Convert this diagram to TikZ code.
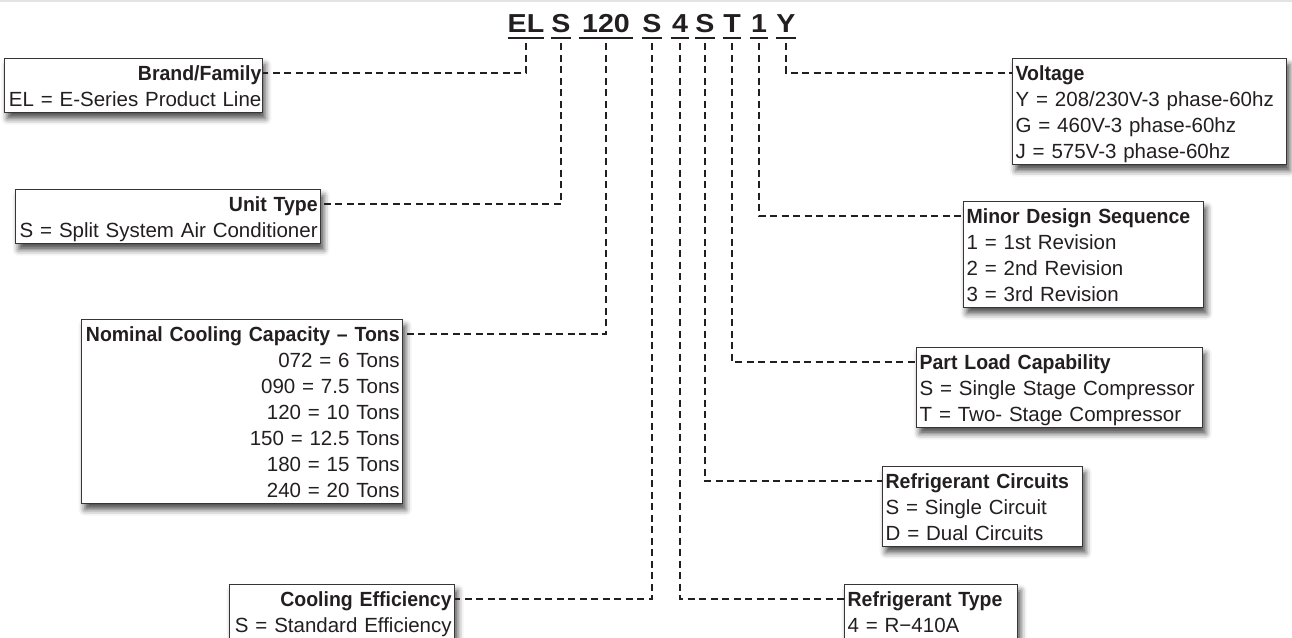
\documentclass[tikz,border=0pt]{standalone}
\usepackage{fontspec}
\setmainfont{Liberation Sans}
\newfontfamily\ttlfont{Liberation Sans}[FakeStretch=0.95]
\newfontfamily\hdrfont{Liberation Sans}[FakeStretch=1.1]
\usetikzlibrary{shadows.blur}
\definecolor{ink}{HTML}{231F20}
\definecolor{rule}{HTML}{E3E3E3}
\newcommand{\ttl}[1]{{\ttlfont\bfseries #1}}

\begin{document}
\begin{tikzpicture}[x=1pt, y=-1pt]
    \tikzstyle{codebox}=[draw=ink!90, line width=1.3pt, fill=white, text=ink, inner xsep=3pt, inner ysep=1.5pt, anchor=north west, font=\fontsize{20.5}{26}\selectfont, execute at begin node={\rule{0pt}{20.7pt}}, execute at end node={\rule[-4.2pt]{0pt}{4.2pt}}, blur shadow={shadow xshift=3pt, shadow yshift=-6pt, shadow blur radius=6pt, shadow opacity=70}]
    \tikzstyle{cutoff}=[execute at end node={\rule[-14pt]{0pt}{14pt}}]
    \tikzstyle{digit}=[inner sep=0pt, anchor=base, text=ink, font=\hdrfont\bfseries\fontsize{26}{30}\selectfont]
    \tikzstyle{lead}=[draw=ink, line width=2.2pt, dash pattern=on 7pt off 4.5pt]
    \tikzstyle{uline}=[draw=ink, line width=2pt]
    % \draw[draw=black!20, step=50] (0,0) grid (1292,637);
    \useasboundingbox (0,0) rectangle (1292,637);
    \draw[rule, line width=2pt] (0,1) -- (1292,1);

    \foreach \nm/\xc/\w/\lbl in {EL/526/34/EL, Sa/561/18/S, 120/606/54/120, Sb/652/18/S, 4/680/18/4, Sc/705/16/S, T/732/18/T, 1/759/18/1, Y/786/18/Y} {
        \node[digit, minimum width=\w pt] (h\nm) at (\xc, 32) {\lbl};
        \draw[uline] ([yshift=-6pt]h\nm.base west) -- ([yshift=-6pt]h\nm.base east);
    }

    \node[codebox, anchor=north east, inner xsep=1pt, align=right, text width=256pt] (brand) at (263, 58) {\ttl{Brand/Family}\\EL = E-Series Product Line};
    \node[codebox, align=right, text width=299pt] (unit) at (15, 189) {\ttl{Unit Type}\\S = Split System Air Conditioner};
    \node[codebox, align=right, text width=315pt] (nominal) at (81, 319) {\ttl{Nominal Cooling Capacity – Tons}\\072 = 6 Tons\\090 = 7.5 Tons\\120 = 10 Tons\\150 = 12.5 Tons\\180 = 15 Tons\\240 = 20 Tons};
    \node[codebox, cutoff, align=right, text width=219pt] (cooling) at (229, 584) {\ttl{Cooling Efficiency}\\S = Standard Efficiency};

    \node[codebox, align=left, text width=268pt] (voltage) at (1012, 58) {\ttl{Voltage}\\Y = 208/230V-3 phase-60hz\\G = 460V-3 phase-60hz\\J = 575V-3 phase-60hz};
    \node[codebox, align=left, text width=234pt] (minor) at (963, 201) {\ttl{Minor Design Sequence}\\1 = 1st Revision\\2 = 2nd Revision\\3 = 3rd Revision};
    \node[codebox, align=left, text width=280pt] (partload) at (916, 347) {\ttl{Part Load Capability}\\S = Single Stage Compressor\\T = Two- Stage Compressor};
    \node[codebox, align=left, text width=194pt] (circuits) at (882, 466) {\ttl{Refrigerant Circuits}\\S = Single Circuit\\D = Dual Circuits};
    \node[codebox, cutoff, align=left, text width=167pt] (reftype) at (844, 584) {\ttl{Refrigerant Type}\\4 = R−410A};

    \draw[lead] ([yshift=-11pt]hEL.south) |- ([yshift=-15pt]brand.north east);
    \draw[lead] ([yshift=-11pt]hSa.south) |- ([yshift=-15pt]unit.north east);
    \draw[lead] ([yshift=-11pt]h120.south) |- ([yshift=-15pt]nominal.north east);
    \draw[lead] ([yshift=-11pt]hSb.south) |- ([yshift=-15pt]cooling.north east);
    \draw[lead] ([yshift=-11pt]h4.south) |- ([yshift=-15pt]reftype.north west);
    \draw[lead] ([yshift=-11pt]hSc.south) |- ([yshift=-15pt]circuits.north west);
    \draw[lead] ([yshift=-11pt]hT.south) |- ([yshift=-15pt]partload.north west);
    \draw[lead] ([yshift=-11pt]h1.south) |- ([yshift=-15pt]minor.north west);
    \draw[lead] ([yshift=-11pt]hY.south) |- ([yshift=-15pt]voltage.north west);
\end{tikzpicture}
\end{document}
